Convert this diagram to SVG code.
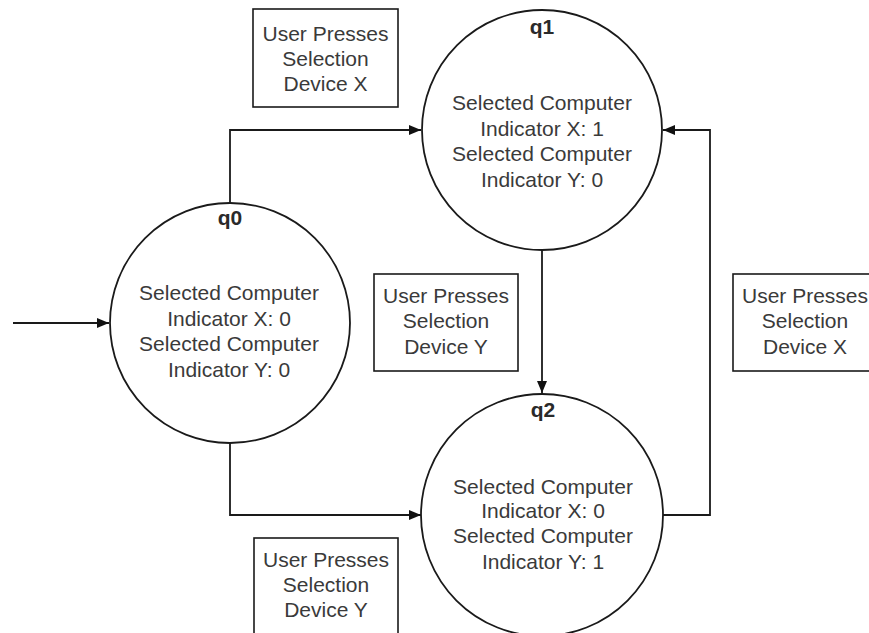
<svg xmlns="http://www.w3.org/2000/svg" width="869" height="633" viewBox="0 0 869 633">
<style>
.st{fill:#fff;stroke:#1a1a1a;stroke-width:1.8}
.bx{fill:#fff;stroke:#1a1a1a;stroke-width:1.6}
.t{font-family:"Liberation Sans",Arial,sans-serif;font-size:21px;fill:#3a3a3a;text-anchor:middle}
.lb{font-family:"Liberation Sans",Arial,sans-serif;font-size:21px;font-weight:bold;fill:#2a2a2a;text-anchor:middle}
.c{fill:none;stroke:#1a1a1a;stroke-width:1.8}
</style>
<defs>
<marker id="ah" viewBox="0 0 12 10" refX="12" refY="5" markerWidth="12" markerHeight="10" markerUnits="userSpaceOnUse" orient="auto">
<path d="M0,0 L12,5 L0,10 Z" fill="#111"/>
</marker>
</defs>
<rect width="869" height="633" fill="#fff"/>
<g id="connectors">
<path class="c" d="M13,323 H109" marker-end="url(#ah)"/>
<path class="c" d="M230,203 V130 H421" marker-end="url(#ah)"/>
<path class="c" d="M542,250 V393" marker-end="url(#ah)"/>
<path class="c" d="M230,443 V515 H421" marker-end="url(#ah)"/>
<path class="c" d="M663,515 H710 V130 H663" marker-end="url(#ah)"/>
</g>
<g id="q0">
<circle class="st" cx="230" cy="323" r="120"/>
<text class="lb" x="230" y="225">q0</text>
<text class="t" x="229" y="300">Selected Computer</text>
<text class="t" x="229" y="326">Indicator X: 0</text>
<text class="t" x="229" y="351">Selected Computer</text>
<text class="t" x="229" y="377">Indicator Y: 0</text>
</g>
<g id="q1">
<circle class="st" cx="542" cy="130" r="120"/>
<text class="lb" x="542" y="34">q1</text>
<text class="t" x="542" y="110">Selected Computer</text>
<text class="t" x="542" y="136">Indicator X: 1</text>
<text class="t" x="542" y="161">Selected Computer</text>
<text class="t" x="542" y="187">Indicator Y: 0</text>
</g>
<g id="q2">
<circle class="st" cx="542" cy="515" r="121"/>
<text class="lb" x="543" y="417">q2</text>
<text class="t" x="543" y="494">Selected Computer</text>
<text class="t" x="543" y="518">Indicator X: 0</text>
<text class="t" x="543" y="543">Selected Computer</text>
<text class="t" x="543" y="569">Indicator Y: 1</text>
</g>
<g id="label1">
<rect class="bx" x="253" y="9" width="145" height="98"/>
<text class="t" x="325.5" y="41">User Presses</text>
<text class="t" x="325.5" y="66">Selection</text>
<text class="t" x="325.5" y="91">Device X</text>
</g>
<g id="label2">
<rect class="bx" x="374" y="274" width="144" height="97"/>
<text class="t" x="446" y="303">User Presses</text>
<text class="t" x="446" y="328">Selection</text>
<text class="t" x="446" y="354">Device Y</text>
</g>
<g id="label3">
<rect class="bx" x="733" y="274" width="150" height="97"/>
<text class="t" x="805" y="303">User Presses</text>
<text class="t" x="805" y="328">Selection</text>
<text class="t" x="805" y="354">Device X</text>
</g>
<g id="label4">
<rect class="bx" x="254" y="538" width="144" height="110"/>
<text class="t" x="326" y="567">User Presses</text>
<text class="t" x="326" y="592">Selection</text>
<text class="t" x="326" y="617">Device Y</text>
</g>
</svg>
